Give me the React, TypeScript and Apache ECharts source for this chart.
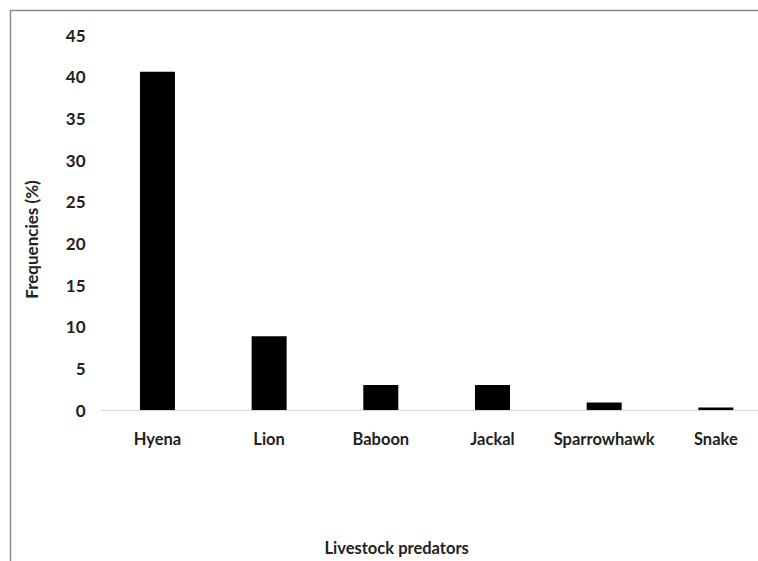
import React, { useEffect, useRef } from "react";
import * as echarts from "echarts";

const categories = ["Hyena", "Lion", "Baboon", "Jackal", "Sparrowhawk", "Snake"];
const frequencies = [40.6, 8.85, 3.0, 3.0, 0.9, 0.3];
const yTicks = { min: 0, max: 45, interval: 5 };

export default function App() {
  const ref = useRef<HTMLDivElement>(null);
  useEffect(() => {
    if (!ref.current) return;
    const chart = echarts.init(ref.current, undefined, { renderer: "svg" });
    const font = "Lato, 'Open Sans', sans-serif";
    chart.setOption({
      animation: false,
      backgroundColor: "#ffffff",
      grid: { left: 101.6, right: 8.3, top: 35, bottom: 561 - 414 },
      graphic: [
        {
          type: "rect",
          shape: { x: 10.5, y: 10.5, width: 900, height: 700 },
          style: { fill: "none", stroke: "#8a8a8a", lineWidth: 1.5 },
          silent: true,
        },
      ],
      xAxis: {
        type: "category",
        data: categories,
        axisLine: { show: true, lineStyle: { color: "#d9d9d9", width: 1 } },
        axisTick: { show: false },
        axisLabel: { interval: 0, color: "#222222", fontFamily: font, fontWeight: "bold", fontSize: 16.5, margin: 20 },
        name: "Livestock predators",
        nameLocation: "middle",
        nameGap: 129,
        nameTextStyle: { color: "#222222", fontFamily: font, fontWeight: "bold", fontSize: 16.5, padding: [0, 80, 0, 0] },
      },
      yAxis: {
        type: "value",
        min: yTicks.min,
        max: yTicks.max,
        interval: yTicks.interval,
        axisLine: { show: false },
        axisTick: { show: false },
        splitLine: { show: false },
        axisLabel: { color: "#222222", fontFamily: font, fontWeight: "bold", fontSize: 17, margin: 16 },
        name: "Frequencies (%)",
        nameLocation: "middle",
        nameGap: 62,
        nameRotate: 90,
        nameTextStyle: { color: "#222222", fontFamily: font, fontWeight: "bold", fontSize: 17, padding: [0, 34, 0, 0] },
      },
      series: [
        {
          type: "bar",
          data: frequencies,
          barWidth: 35,
          itemStyle: { color: "#000000" },
        },
      ],
    });
    return () => chart.dispose();
  }, []);
  return (
    <div style={{ position: "absolute", left: 0, top: 0, width: 758, height: 561, overflow: "hidden", background: "#fff" }}>
      <div ref={ref} style={{ width: 780, height: 561 }} />
    </div>
  );
}
